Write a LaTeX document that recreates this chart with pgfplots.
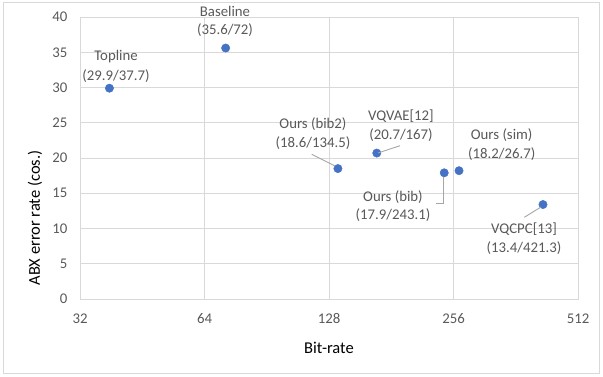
\documentclass[border=0pt]{standalone}
\usepackage{fontspec}
\setmainfont{Carlito}
\usepackage{pgfplots}
\pgfplotsset{compat=1.18}
\definecolor{ptc}{HTML}{4472C4}
\definecolor{gridc}{HTML}{D9D9D9}
\definecolor{txt}{HTML}{595959}
\definecolor{lead}{HTML}{A6A6A6}
\begin{document}
\begin{tikzpicture}[x=1pt,y=1pt]
\useasboundingbox (0,0) rectangle (603,376);
\draw[color=gridc, line width=0.8pt] (3.5,2.5) rectangle (599.5,373.5);
\begin{axis}[
 at={(80pt,77pt)}, anchor=south west,
 scale only axis, width=498pt, height=282pt,
 xmode=log, log basis x=2, xmin=32, xmax=512,
 xtick={32,64,128,256,512}, xticklabels={32,64,128,256,512},
 ymin=0, ymax=40, ytick={0,5,...,40},
 grid=major, major grid style={gridc, line width=0.8pt},
 axis line style={gridc, line width=0.8pt},
 tick style={draw=none},
 ticklabel style={font=\fontsize{14.8}{16}\selectfont, text=txt},
 xticklabel style={yshift=-11pt},
 yticklabel style={xshift=-9pt},
 /pgf/number format/assume math mode=true,
 clip=false,
]
\addplot[only marks, mark=*, mark size=4.2pt, color=ptc] coordinates {
 (37.7,29.9) (72,35.6) (134.5,18.5) (167,20.7) (243.1,17.9) (264,18.2) (421.3,13.4)
};
\end{axis}
\node[font=\fontsize{16.5}{18}\selectfont, rotate=90] at (35,158) {ABX error rate (cos.)};
\node[font=\fontsize{16.5}{18}\selectfont] at (329,28) {Bit-rate};
\begin{scope}[lead, line width=0.9pt]
\draw (311.7,221.7) -- (335,210);
\draw (400,230.3) -- (378,223);
\draw (436,172.7) -- (443.3,172.7) -- (443.3,199);
\draw (524.3,158.7) -- (541,169);
\end{scope}
\begin{scope}[every node/.style={font=\fontsize{14.8}{16}\selectfont, text=txt, inner sep=0pt}]
\node at (116,319) {Topline};
\node at (116,300) {(29.9/37.7)};
\node at (225,365) {Baseline};
\node at (225,346) {(35.6/72)};
\node at (313,252) {Ours (bib2)};
\node at (313,233) {(18.6/134.5)};
\node at (401,260) {VQVAE[12]};
\node at (401,241) {(20.7/167)};
\node at (501.7,241) {Ours (sim)};
\node at (501.7,221.7) {(18.2/26.7)};
\node at (393,179.3) {Ours (bib)};
\node at (393,161) {(17.9/243.1)};
\node at (524,146.7) {VQCPC[13]};
\node at (524,127.7) {(13.4/421.3)};
\end{scope}
\end{tikzpicture}
\end{document}
